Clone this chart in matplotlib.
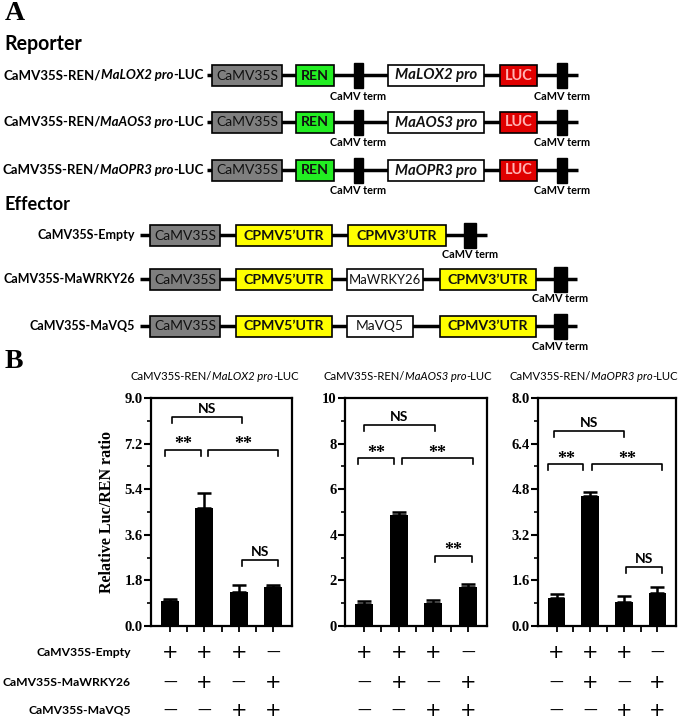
import numpy as np
import matplotlib.pyplot as plt
from matplotlib.patches import Rectangle
from matplotlib.ticker import MultipleLocator, FormatStrFormatter
from matplotlib.transforms import blended_transform_factory

plt.rcParams['font.family'] = ['Lato', 'DejaVu Sans']
SERIF = 'Liberation Serif'
W, H = 685, 724

# ---- panel B: relative Luc/REN ratio ----
lox2_mean = [1.00, 4.65, 1.33, 1.53]
lox2_err = [0.07, 0.60, 0.30, 0.08]
aos3_mean = [0.95, 4.85, 1.02, 1.70]
aos3_err = [0.15, 0.15, 0.13, 0.16]
opr3_mean = [0.97, 4.55, 0.84, 1.15]
opr3_err = [0.14, 0.14, 0.21, 0.21]

y_max = [9.0, 10.0, 8.0]
y_step = [1.8, 2.0, 1.6]
y_fmt = ['%.1f', '%d', '%.1f']

# significance brackets: (from bar, to bar, height, label)
lox2_sig = [(0.05, 2.10, 8.26, 'NS'), (-0.15, 0.90, 6.95, '**'),
            (1.10, 3.15, 6.95, '**'), (2.10, 3.15, 2.60, 'NS')]
aos3_sig = [(0.00, 2.05, 8.82, 'NS'), (-0.18, 0.87, 7.35, '**'),
            (1.09, 3.14, 7.35, '**'), (2.05, 3.11, 3.08, '**')]
opr3_sig = [(-0.07, 2.01, 6.84, 'NS'), (-0.24, 0.79, 5.67, '**'),
            (1.04, 3.14, 5.67, '**'), (2.06, 3.14, 2.08, 'NS')]

row_names = ['CaMV35S-Empty', 'CaMV35S-MaWRKY26', 'CaMV35S-MaVQ5']
empty_row = ['+', '+', '+', '—']
wrky_row = ['—', '+', '—', '+']
vq5_row = ['—', '—', '+', '+']

promoters = ['MaLOX2', 'MaAOS3', 'MaOPR3']

fig = plt.figure(figsize=(W / 100, H / 100), dpi=100)
renderer = fig.canvas.get_renderer()

# background axes in pixel units for the construct schematics
bg = fig.add_axes([0, 0, 1, 1])
bg.set_xlim(0, W)
bg.set_ylim(H, 0)
bg.axis('off')


def fit_size(parts, width, **kw):
    # font size that makes the (multi-style) string `width` pixels wide
    tmp = [bg.text(0, 0, s, fontstyle=st, fontsize=10, **kw)
           for s, st in parts]
    total = sum(t.get_window_extent(renderer).width for t in tmp)
    for t in tmp:
        t.remove()
    return 10 * width / total


def rich(x, y, parts, ha='left', **kw):
    # parts: list of (text, fontstyle) drawn one after another
    txts = [bg.text(0, y, s, fontstyle=st, ha='left', va='center', **kw)
            for s, st in parts]
    widths = [t.get_window_extent(renderer).width for t in txts]
    total = sum(widths)
    start = {'left': x, 'right': x - total, 'center': x - total / 2}[ha]
    for t, w in zip(txts, widths):
        t.set_x(start)
        start += w


def label(x, y, s, width, ha='left', **kw):
    fs = fit_size([(s, kw.pop('fontstyle', 'normal'))], width, **kw)
    return bg.text(x, y, s, fontsize=fs, ha=ha, va='center', **kw)


BOX_H = 21
TERM_H = 25
TERM_FS = fit_size([('CaMV term', 'normal')], 56, fontweight='bold')


def construct(y, x_line, elems, term_label_dy=21):
    bg.plot(x_line, [y, y], color='black', lw=2.5, zorder=1,
            solid_capstyle='butt')
    for kind, x0, x1, text, fc, style in elems:
        if kind == 'term':
            bg.add_patch(Rectangle((x0, y - TERM_H / 2), x1 - x0, TERM_H,
                                   fc='black', ec='black', zorder=2))
            bg.text((x0 + x1) / 2, y + term_label_dy, 'CaMV term',
                    fontsize=TERM_FS, fontweight='bold', ha='center',
                    va='center')
        else:
            bg.add_patch(Rectangle((x0, y - BOX_H / 2), x1 - x0, BOX_H,
                                   fc=fc, ec='black', lw=1.2, zorder=2))
            weight, fst, col, tw = style
            fs = min(12, fit_size([(text, fst)], tw, fontweight=weight))
            bg.text((x0 + x1) / 2, y + 0.5, text, fontsize=fs,
                    fontweight=weight, fontstyle=fst, color=col,
                    ha='center', va='center', zorder=3)


GRAY, GREEN, RED, YELLOW = '#7f7f7f', '#22ee22', '#e00000', '#ffff00'
INK = '#111111'
camv = ('normal', 'normal', INK, 62)
utr = ('bold', 'normal', INK, 80)

bg.text(5, 14, 'A', family=SERIF, fontsize=20, fontweight='bold',
        va='center')
label(4, 44, 'Reporter', 78, fontweight='bold')

rep_fs = fit_size([('CaMV35S-REN/', 'normal'), ('MaLOX2 pro', 'italic'),
                   ('-LUC', 'normal')], 201, fontweight='bold')
for p, yc in zip(promoters, [75, 122, 170]):
    rich(204, yc, [('CaMV35S-REN/', 'normal'), (p + ' pro', 'italic'),
                   ('-LUC', 'normal')], ha='right', fontsize=rep_fs,
         fontweight='bold')
    construct(yc, [207, 578], [
        ('box', 212, 282, 'CaMV35S', GRAY, camv),
        ('box', 296, 334, 'REN', GREEN, ('bold', 'normal', INK, 28)),
        ('term', 354, 363, None, None, None),
        ('box', 388, 484, p + ' pro', 'white', ('bold', 'italic', INK, 82)),
        ('box', 500, 537, 'LUC', RED, ('bold', 'normal', '#ffb3b3', 28)),
        ('term', 557, 567, None, None, None),
    ])

label(4, 205, 'Effector', 66, fontweight='bold')

eff_fs = fit_size([(row_names[1], 'normal')], 132, fontweight='bold')
bg.text(135, 235, row_names[0], fontsize=eff_fs, fontweight='bold',
        ha='right', va='center')
construct(235, [140, 487], [
    ('box', 150, 220, 'CaMV35S', GRAY, camv),
    ('box', 236, 332, 'CPMV5’UTR', YELLOW, utr),
    ('box', 348, 446, 'CPMV3’UTR', YELLOW, utr),
    ('term', 464, 476, None, None, None),
], term_label_dy=20)

for name, gene, gx1, gw, yc in [(row_names[1], 'MaWRKY26', 423, 72, 279),
                                (row_names[2], 'MaVQ5', 413, 48, 326)]:
    bg.text(135, yc, name, fontsize=eff_fs, fontweight='bold',
            ha='right', va='center')
    construct(yc, [140, 577], [
        ('box', 150, 220, 'CaMV35S', GRAY, camv),
        ('box', 236, 332, 'CPMV5’UTR', YELLOW, utr),
        ('box', 347, gx1, gene, 'white', ('normal', 'normal', INK, gw)),
        ('box', 440, 536, 'CPMV3’UTR', YELLOW, utr),
        ('term', 554, 567, None, None, None),
    ], term_label_dy=20)

bg.text(5, 362, 'B', family=SERIF, fontsize=20, fontweight='bold',
        va='center')

# ---- panel B charts ----
chart_px = [(151, 292), (345, 487), (538, 676)]
top_px, bot_px = 398, 626
title_cx = [215, 408, 594]
means = [lox2_mean, aos3_mean, opr3_mean]
errs = [lox2_err, aos3_err, opr3_err]
sigs = [lox2_sig, aos3_sig, opr3_sig]
x = np.arange(4)
title_fs = fit_size([('CaMV35S-REN/', 'normal'), ('MaLOX2 pro', 'italic'),
                     ('-LUC', 'normal')], 168)

for k in range(3):
    x0, x1 = chart_px[k]
    ax = fig.add_axes([x0 / W, 1 - bot_px / H, (x1 - x0) / W,
                       (bot_px - top_px) / H])
    ax.bar(x, means[k], width=0.52, color='black', zorder=2)
    ax.errorbar(x, means[k], yerr=[np.zeros(4), errs[k]], fmt='none',
                ecolor='black', elinewidth=1.8, capsize=5, capthick=1.8,
                zorder=2)
    ax.set_xlim(-0.55, 3.55)
    ax.set_ylim(0, y_max[k])
    ax.yaxis.set_major_locator(MultipleLocator(y_step[k]))
    ax.yaxis.set_minor_locator(MultipleLocator(y_step[k] / 2))
    ax.yaxis.set_major_formatter(FormatStrFormatter(y_fmt[k]))
    ax.set_xticks(np.arange(0, 3.01, 0.5))
    ax.set_xticklabels([])
    for s in ax.spines.values():
        s.set_linewidth(1.6)
    ax.tick_params(axis='y', which='major', length=5, width=1.5, pad=1)
    ax.tick_params(axis='y', which='minor', length=3, width=1.2)
    ax.tick_params(axis='x', length=4, width=1.3)
    for lab in ax.get_yticklabels():
        lab.set_fontfamily(SERIF)
        lab.set_fontweight('bold')
        lab.set_fontsize(10.5)
    if k == 0:
        ax.set_ylabel('Relative Luc/REN ratio', family=SERIF,
                      fontweight='bold', fontsize=11.5, labelpad=7)

    tip = 0.026 * y_max[k]
    for a, b, h, lab in sigs[k]:
        ax.plot([a, a, b, b], [h - tip, h, h, h - tip], color='black',
                lw=1.2, zorder=3)
        if lab == 'NS':
            ax.annotate(lab, ((a + b) / 2, h), xytext=(0, 1.5),
                        textcoords='offset points', ha='center',
                        va='bottom', fontsize=10, fontweight='bold')
        else:
            ax.annotate(lab, ((a + b) / 2, h), xytext=(0, 0.5),
                        textcoords='offset points', ha='center',
                        va='baseline', family=SERIF, fontsize=13,
                        fontweight='bold')

    rich(title_cx[k], 376, [('CaMV35S-REN/', 'normal'),
                            (promoters[k] + ' pro', 'italic'),
                            ('-LUC', 'normal')], ha='center',
         fontsize=title_fs)

    tr = blended_transform_factory(ax.transData, fig.transFigure)
    for row, ypx in zip([empty_row, wrky_row, vq5_row], [653, 683, 711]):
        for xi, sgn in zip(x, row):
            ax.text(xi, 1 - ypx / H, sgn, transform=tr, ha='center',
                    va='center', family='DejaVu Sans',
                    fontsize=14 if sgn == '+' else 10, clip_on=False)

bot_fs = fit_size([(row_names[1], 'normal')], 128, fontweight='bold')
for name, ypx in zip(row_names, [652, 682, 710]):
    bg.text(131, ypx, name, fontsize=bot_fs, fontweight='bold', ha='right',
            va='center')

fig.savefig('out.png', dpi=100)
